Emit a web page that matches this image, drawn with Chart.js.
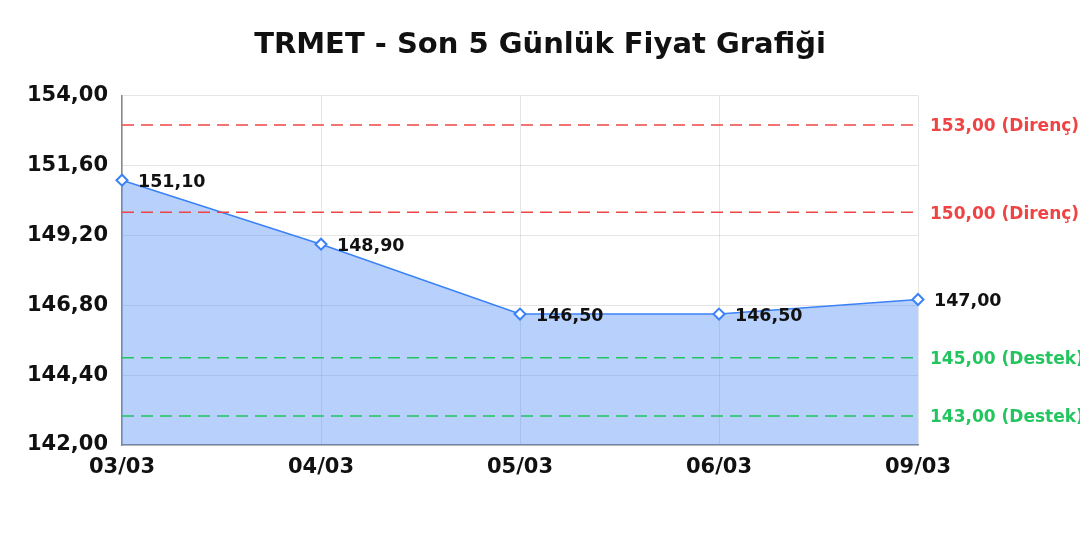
<!DOCTYPE html>
<html>
<head>
<meta charset="utf-8">
<script src="https://cdn.jsdelivr.net/npm/chart.js@4.4.1/dist/chart.umd.min.js"></script>
<style>
html,body{margin:0;padding:0;background:#fff;}
#wrap{width:1080px;height:540px;}
</style>
</head>
<body>
<div id="wrap"><canvas id="c" width="1080" height="540"></canvas></div>
<script>
const chartTitle = 'TRMET - Son 5 Günlük Fiyat Grafiği';
const categories = ['03/03', '04/03', '05/03', '06/03', '09/03'];
const prices = [151.10, 148.90, 146.50, 146.50, 147.00];
const yTicks = [142.00, 144.40, 146.80, 149.20, 151.60, 154.00];
const resistanceLevels = [153.00, 150.00];
const supportLevels = [145.00, 143.00];
const resistanceLabel = 'Direnç';
const supportLabel = 'Destek';

const FONT = '"DejaVu Sans", Verdana, sans-serif';
const fmt = v => v.toFixed(2).replace('.', ',');

const overlayPlugin = {
  id: 'overlay',
  afterDatasetsDraw(chart) {
    const ctx = chart.ctx;
    const area = chart.chartArea;
    const y = chart.scales.y;
    const levels = [];
    resistanceLevels.forEach(v => levels.push({v, color: '#ef4444', txt: fmt(v) + ' (' + resistanceLabel + ')'}));
    supportLevels.forEach(v => levels.push({v, color: '#22c55e', txt: fmt(v) + ' (' + supportLabel + ')'}));
    ctx.save();
    levels.forEach(l => {
      const py = y.getPixelForValue(l.v);
      ctx.beginPath();
      ctx.setLineDash([12, 7]);
      ctx.lineWidth = 1.5;
      ctx.strokeStyle = l.color;
      ctx.moveTo(area.left, py);
      ctx.lineTo(area.right, py);
      ctx.stroke();
      ctx.setLineDash([]);
      ctx.fillStyle = l.color;
      ctx.font = 'bold 17px ' + FONT;
      ctx.textAlign = 'left';
      ctx.textBaseline = 'middle';
      ctx.fillText(l.txt, area.right + 12, py + 2);
    });
    const meta = chart.getDatasetMeta(0);
    ctx.fillStyle = '#111';
    ctx.font = 'bold 17.5px ' + FONT;
    ctx.textAlign = 'left';
    ctx.textBaseline = 'middle';
    meta.data.forEach((pt, i) => {
      ctx.fillText(fmt(prices[i]), pt.x + 16, pt.y + 2);
    });
    ctx.restore();
  }
};

new Chart(document.getElementById('c'), {
  type: 'line',
  data: {
    labels: categories,
    datasets: [{
      data: prices,
      yAxisID: 'y',
      borderColor: '#3b82f6',
      borderWidth: 1.5,
      backgroundColor: 'rgba(59,130,246,0.37)',
      fill: 'start',
      tension: 0,
      pointStyle: 'rectRot',
      pointRadius: 5.5,
      pointBorderWidth: 2,
      pointBackgroundColor: '#ffffff',
      pointBorderColor: '#3b82f6'
    }]
  },
  options: {
    responsive: false,
    animation: false,
    devicePixelRatio: 1,
    layout: { padding: { left: 0, right: 0, top: 0, bottom: 60 } },
    plugins: {
      legend: { display: false },
      tooltip: { enabled: false },
      title: {
        display: true,
        text: chartTitle,
        color: '#111',
        font: { family: FONT, size: 29, weight: 'bold' },
        padding: { top: 28, bottom: 33 }
      }
    },
    scales: {
      x: {
        afterFit: s => { s.height = 35; },
        grid: { color: 'rgba(0,0,0,0.1)', drawTicks: false },
        border: { color: '#888', width: 1.5 },
        ticks: { color: '#111', font: { family: FONT, size: 21, weight: 'bold' }, padding: 10, maxRotation: 0 }
      },
      y: {
        min: 142,
        max: 154,
        afterBuildTicks: s => { s.ticks = yTicks.map(v => ({ value: v })); },
        afterFit: s => { s.width = 122; },
        grid: { color: 'rgba(0,0,0,0.1)', drawTicks: false },
        border: { color: '#888', width: 1.5 },
        ticks: { color: '#111', font: { family: FONT, size: 21, weight: 'bold' }, padding: 14, callback: v => fmt(v) }
      },
      yRight: {
        position: 'right',
        min: 142,
        max: 154,
        afterFit: s => { s.width = 162; },
        grid: { display: false, drawTicks: false },
        border: { display: false },
        ticks: { display: false }
      }
    }
  },
  plugins: [overlayPlugin]
});
</script>
</body>
</html>
